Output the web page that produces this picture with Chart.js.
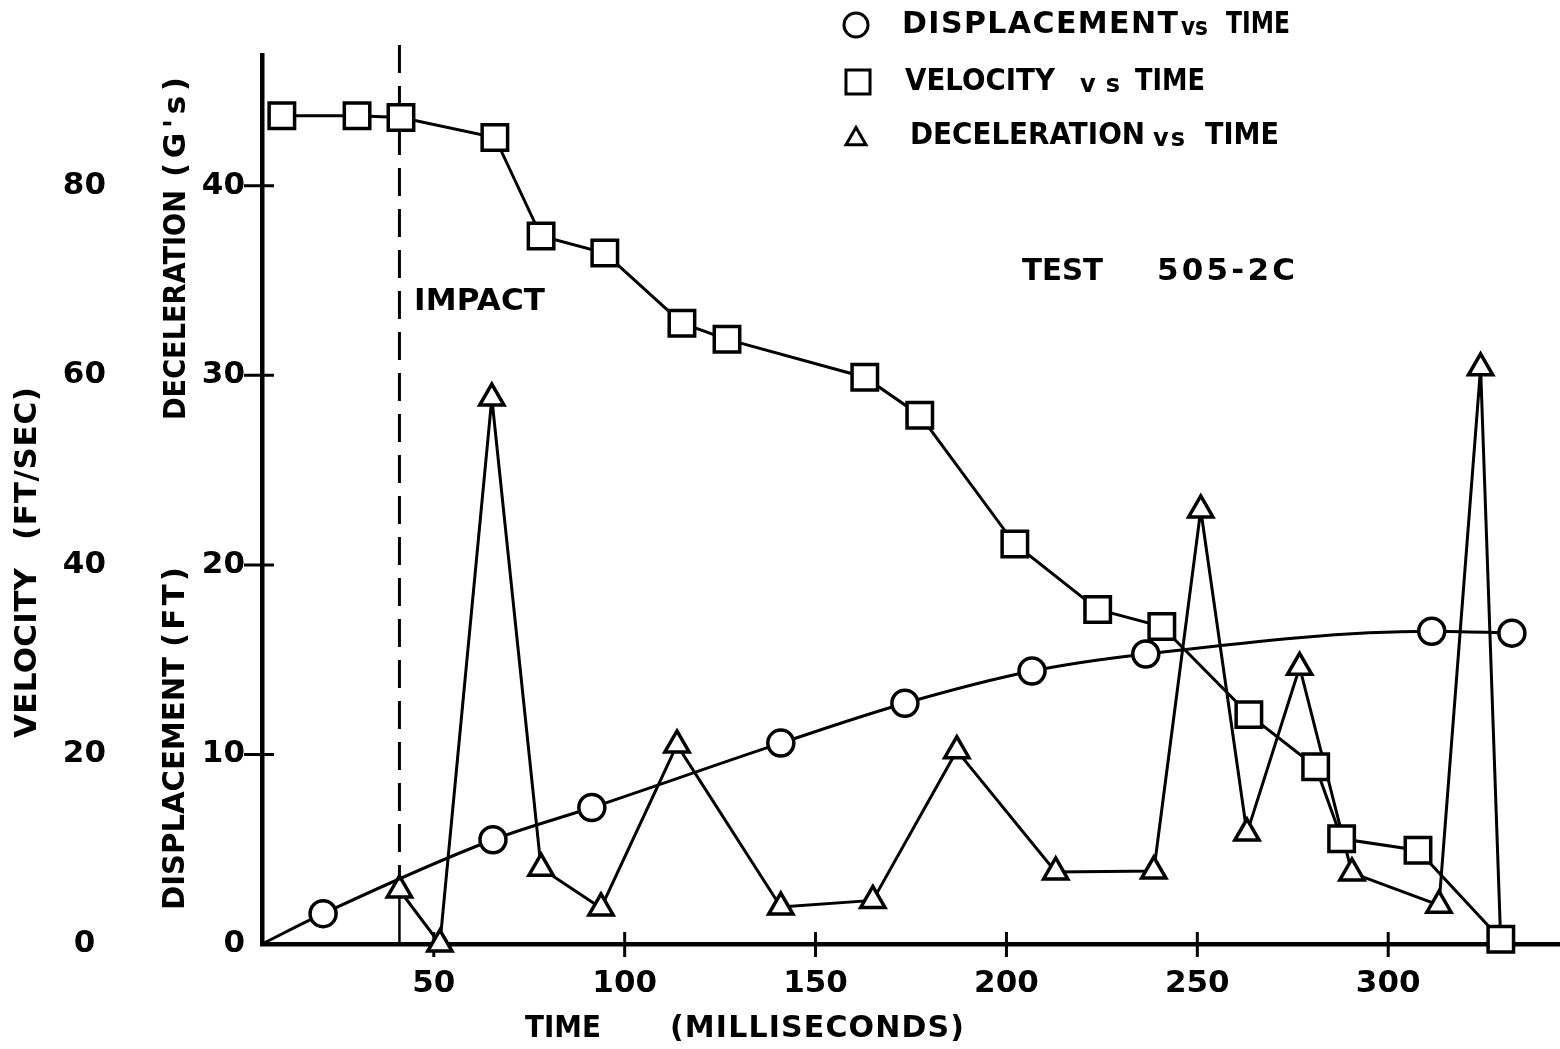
<!DOCTYPE html>
<html lang="en">

<head>
  <meta charset="UTF-8">
  <title>Test 505-2C</title>
  <script src="https://cdn.jsdelivr.net/npm/chart.js"></script>
  <style>
    html,
    body {
      margin: 0;
      padding: 0;
      background: #fff;
    }

    #grafico {
      display: block;
    }
  </style>
</head>

<body>
  <canvas id="grafico" width="1560" height="1049"></canvas>

  <script>
    // readings, time in milliseconds
    const dispTime = [5, 21.0, 65.5, 91.4, 140.9, 173.4, 206.7, 236.5, 311.4, 332.4];
    const displacement = [0, 1.6, 5.5, 7.2, 10.6, 12.7, 14.4, 15.3, 16.5, 16.4];

    const velTime = [10.2, 29.9, 41.4, 66.0, 78.1, 94.8, 115.0, 126.8, 162.9, 177.3, 202.2, 223.9, 240.7, 263.5, 281.0, 287.8, 307.8, 329.5];
    const velocity = [87.4, 87.4, 87.2, 85.1, 74.7, 72.9, 65.5, 63.8, 59.8, 55.8, 42.2, 35.3, 33.5, 24.2, 18.7, 11.1, 9.9, 0.5];

    const decelTime = [41.0, 51.6, 65.2, 78.1, 93.8, 113.7, 140.9, 165.0, 187.0, 212.9, 238.6, 250.9, 263.0, 276.8, 290.5, 313.3, 324.2, 329.5];
    const deceleration = [2.85, 0, 28.8, 4.0, 1.9, 10.5, 1.95, 2.3, 10.2, 3.8, 3.85, 22.9, 5.85, 14.6, 3.75, 2.05, 30.4, 0];

    const timeTicks = [50, 100, 150, 200, 250, 300];
    const feetTicks = [0, 10, 20, 30, 40];
    const velTicks = [0, 20, 40, 60, 80];
    const impactTime = 41;

    const FONT = '"DejaVu Sans", sans-serif';
    const tickFont = { family: FONT, size: 31, weight: 'bold' };

    const pairs = (xs, ys) => xs.map((x, i) => ({ x: x, y: ys[i] }));
    const fixedTicks = list => scale => { scale.ticks = list.map(v => ({ value: v })); };

    // fit a word into a given width: spread it out, or squeeze it if too wide
    function fitText(ctx, text, x, y, width) {
      ctx.letterSpacing = '0px';
      const natural = ctx.measureText(text).width;
      if (natural > width) {
        ctx.save();
        ctx.translate(x, y);
        ctx.scale(width / natural, 1);
        ctx.fillText(text, 0, 0);
        ctx.restore();
        return;
      }
      const gap = text.length > 1 ? (width - natural) / (text.length - 1) : 0;
      ctx.letterSpacing = gap + 'px';
      ctx.fillText(text, x, y);
      ctx.letterSpacing = '0px';
    }

    function fitUp(ctx, text, x, yBottom, height) {
      ctx.save();
      ctx.translate(x, yBottom);
      ctx.rotate(-Math.PI / 2);
      fitText(ctx, text, 0, 0, height);
      ctx.restore();
    }

    // tick marks crossing the axes + the dashed impact line
    const axisMarks = {
      id: 'axisMarks',
      beforeDatasetsDraw(chart) {
        const { ctx, scales: { x, y } } = chart;
        ctx.save();
        ctx.strokeStyle = '#000';
        ctx.lineWidth = 3;
        ctx.beginPath();
        x.ticks.forEach(t => {
          const px = x.getPixelForValue(t.value);
          ctx.moveTo(px, y.bottom - 12);
          ctx.lineTo(px, y.bottom + 13);
        });
        y.ticks.forEach(t => {
          if (t.value === 0) return;
          const py = y.getPixelForValue(t.value);
          ctx.moveTo(x.left - 18, py);
          ctx.lineTo(x.left + 12, py);
        });
        ctx.stroke();

        const ix = x.getPixelForValue(impactTime);
        const iy = y.getPixelForValue(deceleration[0]);
        ctx.setLineDash([28, 13]);
        ctx.beginPath();
        ctx.moveTo(ix, y.top - 10);
        ctx.lineTo(ix, iy);
        ctx.stroke();
        ctx.setLineDash([]);
        ctx.lineWidth = 2.5;
        ctx.beginPath();
        ctx.moveTo(ix, iy);
        ctx.lineTo(ix, y.bottom);
        ctx.stroke();
        ctx.restore();
      }
    };

    // legend, notes and axis titles
    const lettering = {
      id: 'lettering',
      afterDraw(chart) {
        const ctx = chart.ctx;
        ctx.save();
        ctx.fillStyle = '#000';
        ctx.strokeStyle = '#000';
        ctx.textAlign = 'left';
        ctx.textBaseline = 'middle';

        const rows = [
          { ds: 1, mx: 856, y: 25, r: 12, name: [902, 276], vs: [1181, 27], time: [1226, 64] },
          { ds: 0, mx: 858, y: 82, r: 17, name: [905, 150], vs: [1080, 40], time: [1135, 70] },
          { ds: 2, mx: 856, y: 136, r: 11.5, name: [910, 235], vs: [1153, 32], time: [1205, 74] }
        ];
        rows.forEach(row => {
          const ds = chart.data.datasets[row.ds];
          const parts = ds.label.split(' vs ');
          ctx.fillStyle = '#fff';
          ctx.lineWidth = 3;
          Chart.helpers.drawPoint(ctx, { pointStyle: ds.pointStyle, radius: row.r, rotation: 0, borderWidth: 3 }, row.mx, row.y + (ds.pointStyle === 'triangle' ? 3 : 0));
          ctx.fillStyle = '#000';
          ctx.font = `bold 30px ${FONT}`;
          fitText(ctx, parts[0], row.name[0], row.y, row.name[1]);
          fitText(ctx, parts[1], row.time[0], row.y, row.time[1]);
          ctx.font = `bold 24px ${FONT}`;
          fitText(ctx, 'vs', row.vs[0], row.y + 4, row.vs[1]);
        });

        ctx.font = `bold 31px ${FONT}`;
        fitText(ctx, 'TEST', 1022, 272, 81);
        fitText(ctx, '505-2C', 1157, 272, 138);

        ctx.font = `bold 31px ${FONT}`;
        fitText(ctx, 'IMPACT', 414, 302, 131);

        ctx.font = `bold 30px ${FONT}`;
        fitText(ctx, 'TIME', 525, 1029, 76);
        fitText(ctx, '(MILLISECONDS)', 670, 1029, 294);

        ctx.font = `bold 31px ${FONT}`;
        fitUp(ctx, 'VELOCITY', 28, 738, 170);
        fitUp(ctx, '(FT/SEC)', 28, 540, 153);
        fitUp(ctx, 'DISPLACEMENT', 176, 910, 253);
        fitUp(ctx, '(FT)', 176, 647, 80);
        fitUp(ctx, 'DECELERATION', 177, 420, 230);
        fitUp(ctx, "(G's)", 177, 177, 100);
        ctx.restore();
      }
    };

    const ctx = document.getElementById('grafico').getContext('2d');
    const grafico = new Chart(ctx, {
      type: 'scatter',
      data: {
        datasets: [{
          label: 'VELOCITY vs TIME',
          data: pairs(velTime, velocity),
          yAxisID: 'yv',
          showLine: true,
          tension: 0,
          pointStyle: 'rect',
          pointRadius: 18,
          borderColor: '#000',
          backgroundColor: '#fff',
          borderWidth: 3,
          pointBorderWidth: 3.5,
          clip: false
        }, {
          label: 'DISPLACEMENT vs TIME',
          data: pairs(dispTime, displacement),
          yAxisID: 'y',
          showLine: true,
          cubicInterpolationMode: 'monotone',
          pointStyle: 'circle',
          pointRadius: c => c.dataIndex === 0 ? 0 : 13,
          borderColor: '#000',
          backgroundColor: '#fff',
          borderWidth: 3,
          pointBorderWidth: 3.5,
          clip: false
        }, {
          label: 'DECELERATION vs TIME',
          data: pairs(decelTime, deceleration),
          yAxisID: 'y',
          showLine: true,
          tension: 0,
          pointStyle: 'triangle',
          pointRadius: c => c.dataIndex === deceleration.length - 1 ? 0 : 14,
          borderColor: '#000',
          backgroundColor: '#fff',
          borderWidth: 3,
          pointBorderWidth: 3.5,
          clip: false
        }]
      },
      options: {
        responsive: false,
        animation: false,
        events: [],
        layout: { autoPadding: false, padding: { top: 55, right: 0, bottom: 0, left: 0 } },
        scales: {
          x: {
            type: 'linear',
            min: 5,
            max: 345,
            afterBuildTicks: fixedTicks(timeTicks),
            afterFit: s => {
              s.height = 105;
              s.paddingLeft = 0;
              s.paddingRight = 0;
            },
            border: { display: true, width: 4.5, color: '#000' },
            grid: { display: false, drawTicks: false },
            ticks: { font: tickFont, color: '#000', padding: 21 }
          },
          y: {
            position: 'left',
            weight: 0,
            min: 0,
            max: 46.9,
            afterBuildTicks: fixedTicks(feetTicks),
            afterFit: s => { s.width = 132; },
            border: { display: true, width: 4.5, color: '#000' },
            grid: { display: false, drawTicks: false },
            ticks: { font: tickFont, color: '#000', padding: 17 }
          },
          yv: {
            position: 'left',
            weight: 1,
            min: 0,
            max: 93.8,
            afterBuildTicks: fixedTicks(velTicks),
            afterFit: s => { s.width = 130; },
            border: { display: false },
            grid: { display: false, drawTicks: false },
            ticks: { font: tickFont, color: '#000', padding: 24, crossAlign: 'center' }
          }
        },
        plugins: {
          legend: { display: false },
          tooltip: { enabled: false }
        }
      },
      plugins: [axisMarks, lettering]
    });
  </script>
</body>

</html>
